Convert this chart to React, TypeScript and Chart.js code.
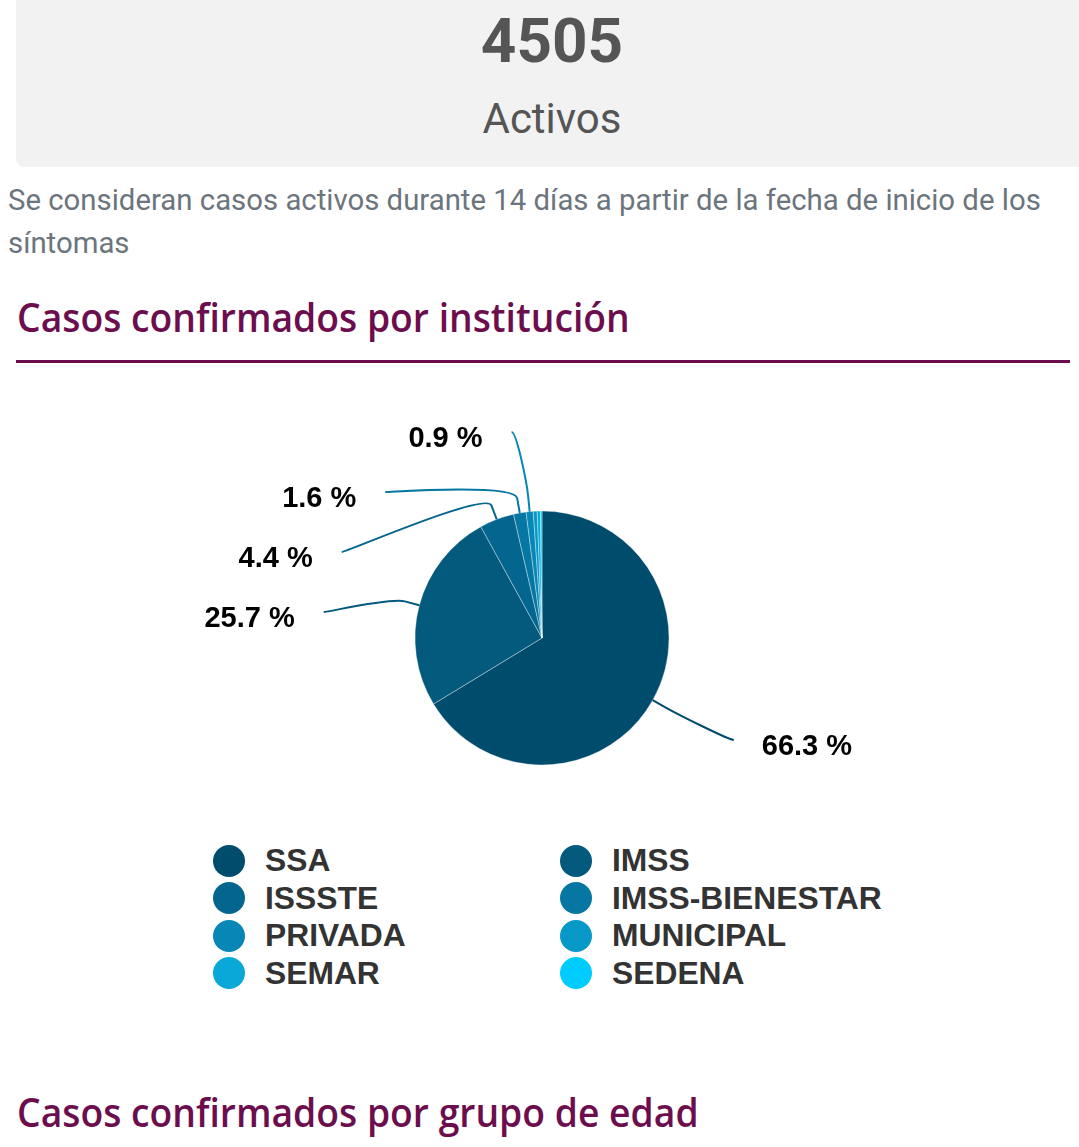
import React, { useEffect, useRef } from 'react';
import { Chart, registerables } from 'chart.js';

Chart.register(...registerables);

// ---- data ----
const activeCount = '4505';
const activeLabel = 'Activos';
const activeNote = 'Se consideran casos activos durante 14 días a partir de la fecha de inicio de los síntomas';
const chartTitle = 'Casos confirmados por institución';
const nextTitle = 'Casos confirmados por grupo de edad';
const institutions = ['SSA', 'IMSS', 'ISSSTE', 'IMSS-BIENESTAR', 'PRIVADA', 'MUNICIPAL', 'SEMAR', 'SEDENA'];
const shares = [66.3, 25.7, 4.4, 1.6, 0.9, 0.5, 0.4, 0.2];
const sliceColors = ['#004c6d', '#035a7d', '#04668f', '#0677a3', '#0787b5', '#0898c8', '#0aa8d8', '#00ccff'];
const labelMinShare = 0.8;

const PURPLE = '#6c0e4e';

const pieLabelPlugin = {
  id: 'pieLabels',
  afterDatasetsDraw(chart: any) {
    const ctx = chart.ctx as CanvasRenderingContext2D;
    const meta = chart.getDatasetMeta(0);
    type Item = { i: number; a: number; cx: number; cy: number; r: number; left: boolean; ny: number; y?: number };
    const items: Item[] = [];
    meta.data.forEach((arc: any, i: number) => {
      const v = shares[i];
      if (v < labelMinShare) return;
      const p = arc.getProps(['x', 'y', 'startAngle', 'endAngle', 'outerRadius'], true);
      const a = (p.startAngle + p.endAngle) / 2;
      const ry = p.outerRadius + 81;
      items.push({ i, a, cx: p.x, cy: p.y, r: p.outerRadius, left: Math.cos(a) < 0, ny: p.y + ry * Math.sin(a) });
    });
    const spacing = 60;
    [true, false].forEach((side) => {
      const list = items.filter((it) => it.left === side).sort((a, b) => a.ny - b.ny);
      let prev = -Infinity;
      list.forEach((it) => {
        const minY = it.cy - (it.r + 79);
        const y = Math.max(it.ny, prev + spacing, minY);
        it.y = y;
        prev = y;
      });
    });
    ctx.save();
    items.forEach((it) => {
      const rx = it.r + 93;
      const ry = it.r + 81;
      const y = it.y as number;
      const dy = (y - it.cy) / ry;
      const off = rx * Math.sqrt(Math.max(0, 1 - dy * dy));
      const ex = it.left ? it.cx - off : it.cx + off;
      const cosA = Math.cos(it.a);
      const sinA = Math.sin(it.a);
      const px = it.cx + it.r * cosA;
      const py = it.cy + it.r * sinA;
      const bx = it.cx + (it.r + 15) * cosA;
      const by = it.cy + (it.r + 15) * sinA;
      const ccx = 2 * bx - px;
      const ccy = 2 * by - py;
      const s = it.left ? 1 : -1;
      ctx.beginPath();
      ctx.moveTo(ex, y);
      ctx.bezierCurveTo(ex + s * 5, y, ccx, ccy, bx, by);
      ctx.lineTo(px, py);
      ctx.strokeStyle = sliceColors[it.i];
      ctx.lineWidth = 2;
      ctx.stroke();
      ctx.font = 'bold 29px "Liberation Sans", Arial, sans-serif';
      ctx.fillStyle = '#000000';
      ctx.textBaseline = 'middle';
      ctx.textAlign = it.left ? 'right' : 'left';
      const txt = shares[it.i].toFixed(1) + ' %';
      ctx.fillText(txt, it.left ? ex - 29 : ex + 28, y + 7);
    });
    ctx.restore();
  },
};

function PieChart() {
  const ref = useRef<HTMLCanvasElement | null>(null);
  useEffect(() => {
    if (!ref.current) return;
    const chart = new Chart(ref.current, {
      type: 'pie',
      data: {
        labels: institutions,
        datasets: [
          {
            data: shares,
            backgroundColor: sliceColors,
            borderColor: 'rgba(255,255,255,0.35)',
            borderWidth: 1,
            radius: 127,
          } as any,
        ],
      },
      options: {
        responsive: false,
        animation: false,
        layout: { padding: { left: 5, right: 0, top: 76, bottom: 0 } },
        plugins: { legend: { display: false }, tooltip: { enabled: false } },
      },
      plugins: [pieLabelPlugin as any],
    });
    return () => chart.destroy();
  }, []);
  return <canvas ref={ref} width={1079} height={440} style={{ display: 'block' }} />;
}

export default function App() {
  const abs = (s: React.CSSProperties): React.CSSProperties => ({ position: 'absolute', ...s });
  const headingStyle: React.CSSProperties = {
    fontFamily: '"Open Sans", sans-serif', fontWeight: 600, fontSize: 40, lineHeight: '40px',
    color: PURPLE, whiteSpace: 'nowrap', transform: 'scaleX(0.932)', transformOrigin: '0 0',
  };
  return (
    <div style={{ position: 'absolute', left: 0, top: 0, width: 1079, height: 1147, overflow: 'hidden', background: '#fff' }}>
      <div style={abs({ left: 16, top: -12, width: 1072, height: 179, background: '#f2f2f2', borderRadius: 8 })} />
      <div
        style={abs({
          left: 16, width: 1072, top: 10, textAlign: 'center', fontFamily: 'Roboto, sans-serif', fontWeight: 700,
          fontSize: 62, lineHeight: '62px', color: '#555555',
        })}
      >
        {activeCount}
      </div>
      <div
        style={abs({
          left: 16, width: 1072, top: 98, textAlign: 'center', fontFamily: 'Roboto, sans-serif', fontWeight: 400,
          fontSize: 42, lineHeight: '42px', color: '#555555',
        })}
      >
        {activeLabel}
      </div>
      <div
        style={abs({
          left: 8, width: 1060, top: 179, fontFamily: 'Roboto, sans-serif', fontSize: 29.35, lineHeight: '43px', color: '#6c757d',
        })}
      >
        {activeNote}
      </div>
      <div style={abs({ left: 17, top: 297, ...headingStyle })}>{chartTitle}</div>
      <div style={abs({ left: 16, top: 360, width: 1054, height: 3, background: PURPLE })} />
      <div style={abs({ left: 0, top: 380, width: 1079, height: 440 })}>
        <PieChart />
      </div>
      {institutions.map((name, i) => {
        const col = i % 2;
        const row = Math.floor(i / 2);
        return (
          <div
            key={name}
            style={abs({
              left: col === 0 ? 213 : 560, top: 842 + row * 37.5, height: 37.5, display: 'flex', alignItems: 'center',
              whiteSpace: 'nowrap',
            })}
          >
            <span style={{ display: 'inline-block', width: 32, height: 32, borderRadius: '50%', background: sliceColors[i] }} />
            <span
              style={{
                marginLeft: 20, fontFamily: '"Liberation Sans", Arial, sans-serif', fontWeight: 700, fontSize: 31.8,
                lineHeight: '37.5px', color: '#333333',
              }}
            >
              {name}
            </span>
          </div>
        );
      })}
      <div style={abs({ left: 17, top: 1092, ...headingStyle })}>{nextTitle}</div>
    </div>
  );
}
